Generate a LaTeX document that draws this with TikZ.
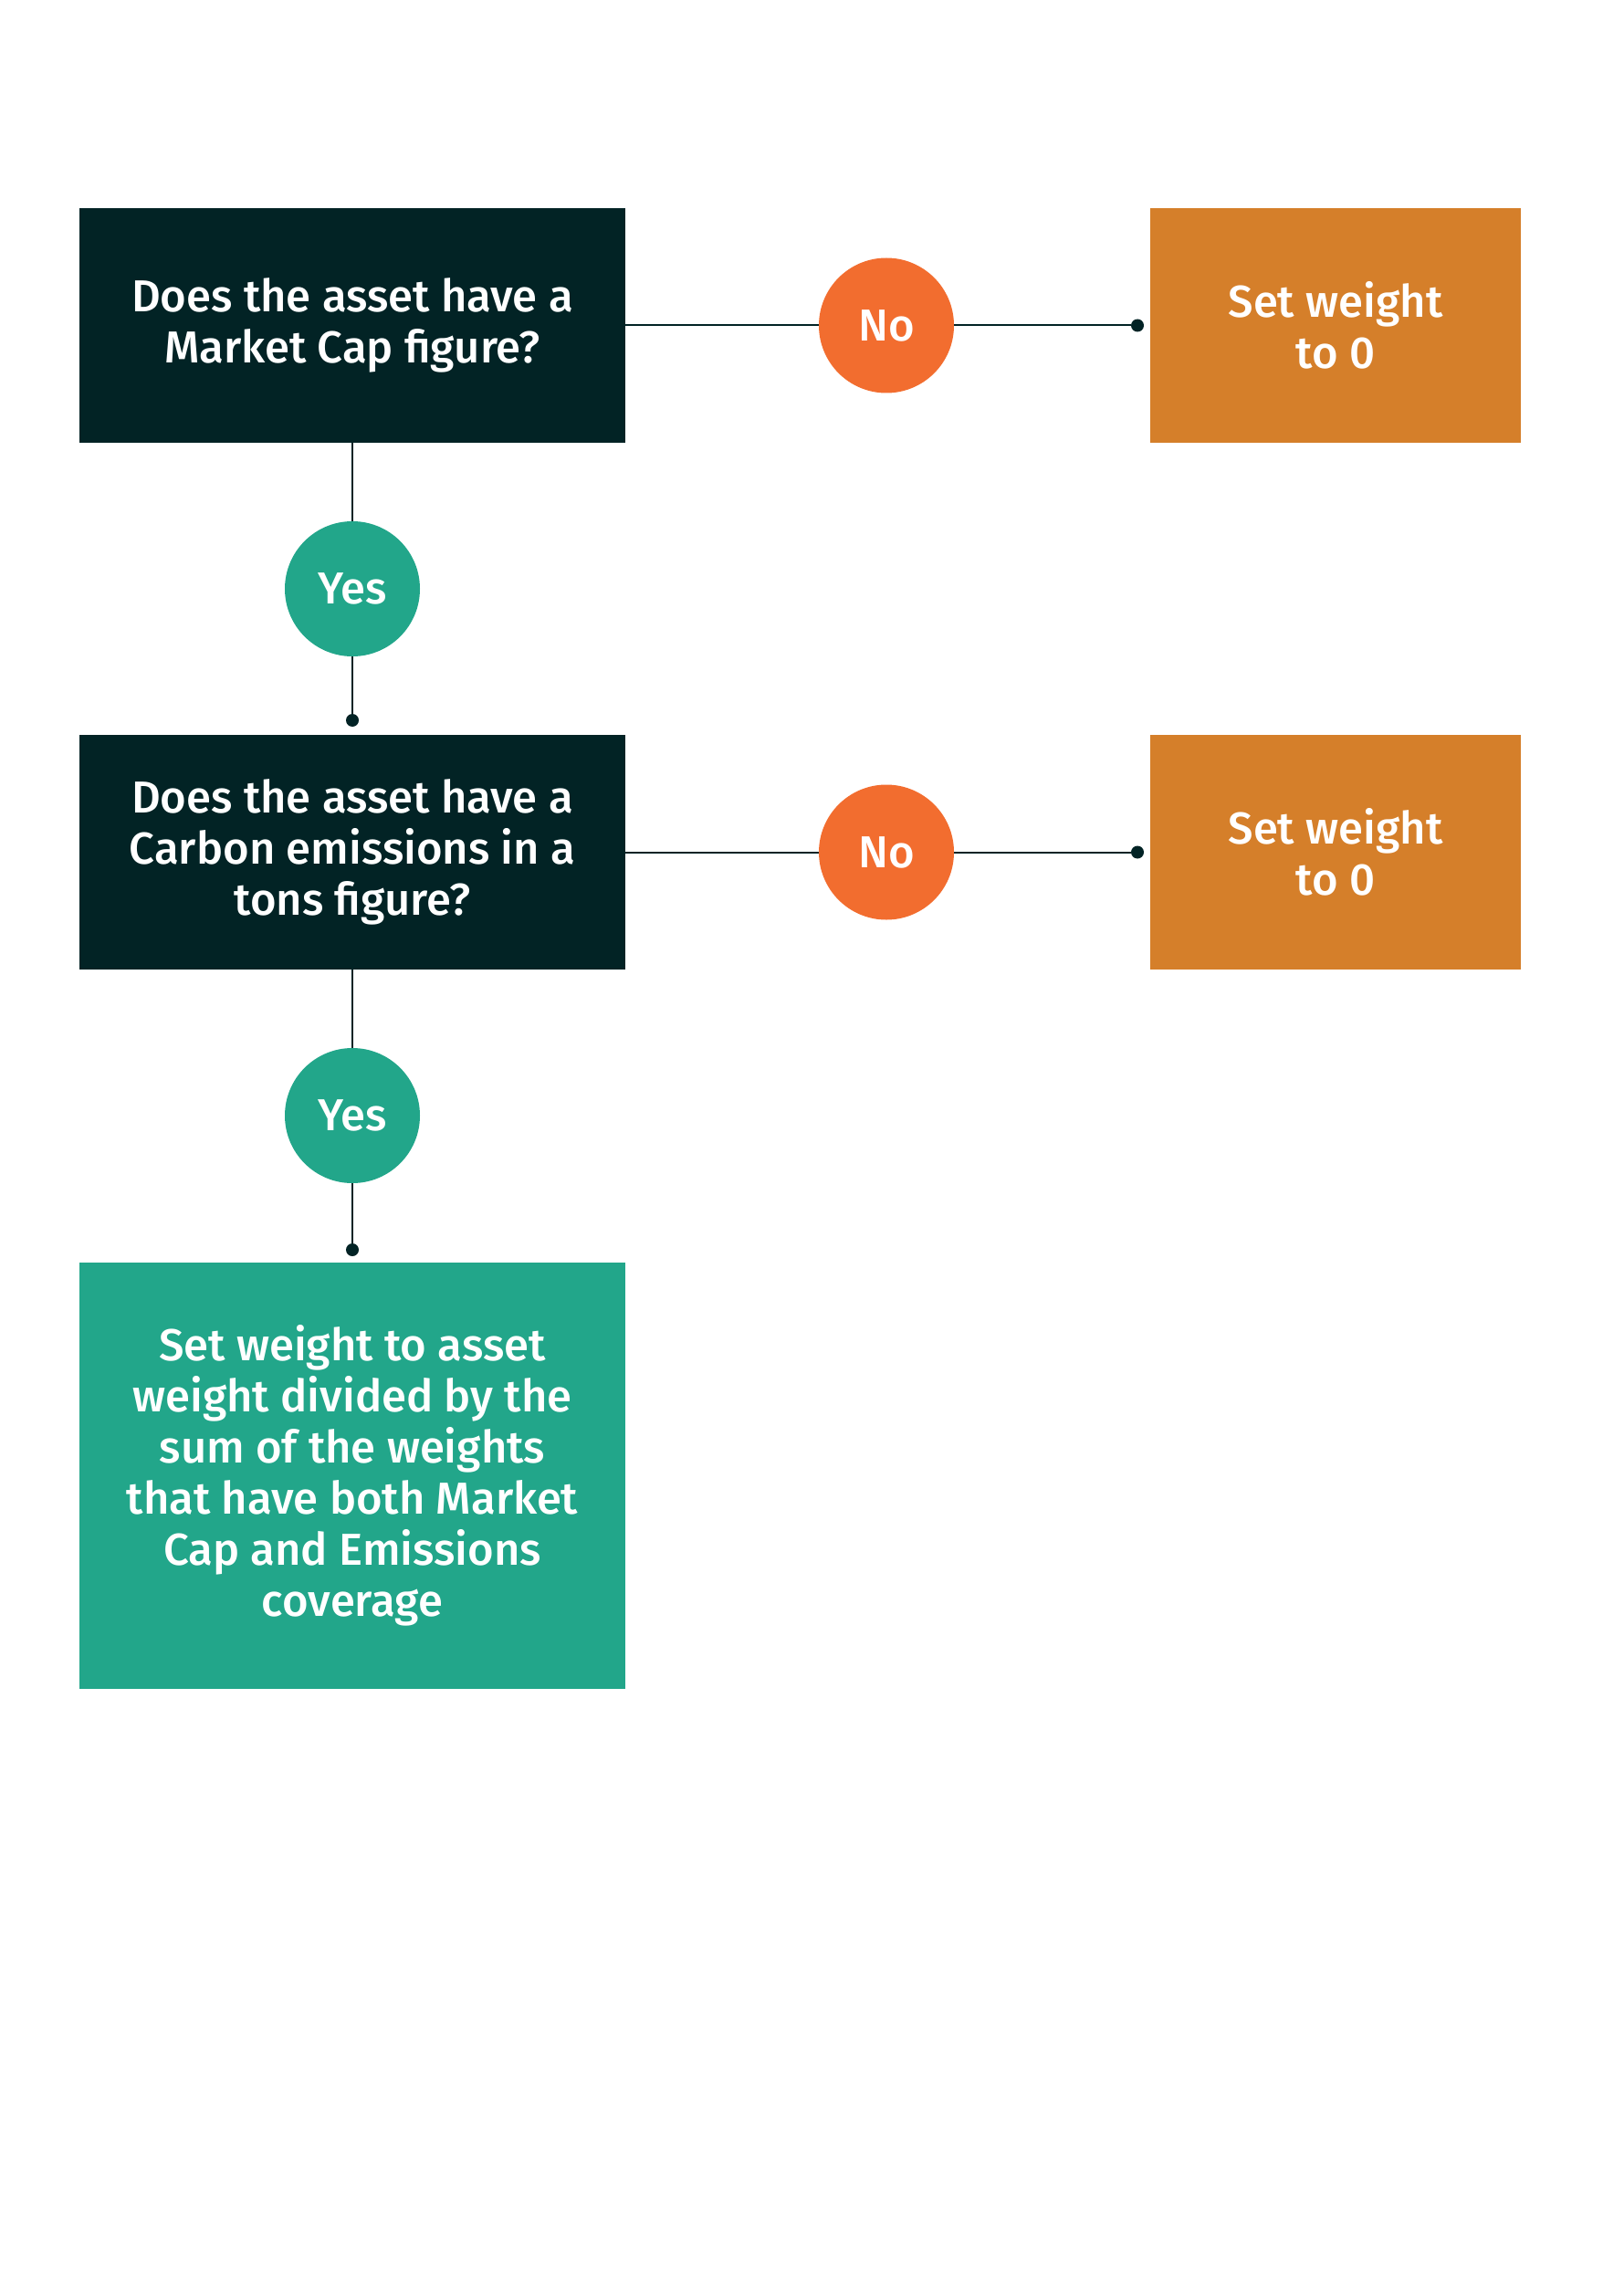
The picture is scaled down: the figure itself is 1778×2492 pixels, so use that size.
\documentclass[tikz,border=0pt]{standalone}
\usepackage{fontspec}
\setmainfont{Fira Sans}[UprightFont=* Medium]
\definecolor{dk}{HTML}{022325}
\definecolor{og}{HTML}{D57F2A}
\definecolor{rd}{HTML}{F26D2F}
\definecolor{tl}{HTML}{22A68A}
\begin{document}
\begin{tikzpicture}[x=0.5pt,y=-0.5pt,
 box/.style={minimum width=299pt,minimum height=128.5pt,inner sep=0pt,align=center,text=white,font=\fontsize{24.5}{28}\selectfont},
 sbox/.style={box,minimum width=203pt},
 circ/.style={circle,minimum size=74pt,inner sep=0pt,text=white,font=\fontsize{24.5}{28}\selectfont},
 ln/.style={draw=dk,line width=1pt},
 dotc/.style={circle,fill=dk,inner sep=0pt,minimum size=7pt}]
\useasboundingbox (0,0) rectangle (1778,2492);
\node[box,fill=dk] (q1) at (386,356.5) {Does the asset have a\\Market Cap figure?};
\node[sbox,fill=og] (s1) at (1463,356.5) {Set weight\\to 0};
\node[box,fill=dk] (q2) at (386,933.5) {Does the asset have a\\Carbon emissions in a\\tons figure?};
\node[sbox,fill=og] (s2) at (1463,933.5) {Set weight\\to 0};
\node[box,fill=tl,minimum height=233.5pt] (r) at (386,1616.5) {Set weight to asset\\weight divided by the\\sum of the weights\\that have both Market\\Cap and Emissions\\coverage};
\node[circ,fill=rd] (n1) at (971,356.5) {No};
\node[circ,fill=rd] (n2) at (971,933.5) {No};
\node[circ,fill=tl] (y1) at (386,645) {Yes};
\node[circ,fill=tl] (y2) at (386,1222) {Yes};
\node[dotc] (d1) at (1246,356.5) {};
\node[dotc] (d2) at (1246,933.5) {};
\node[dotc] (d3) at (386,789) {};
\node[dotc] (d4) at (386,1369) {};
\draw[ln] (q1.east) -- (n1); \draw[ln] (n1) -- (d1);
\draw[ln] (q2.east) -- (n2); \draw[ln] (n2) -- (d2);
\draw[ln] (q1.south) -- (y1); \draw[ln] (y1) -- (d3);
\draw[ln] (q2.south) -- (y2); \draw[ln] (y2) -- (d4);
\end{tikzpicture}
\end{document}
